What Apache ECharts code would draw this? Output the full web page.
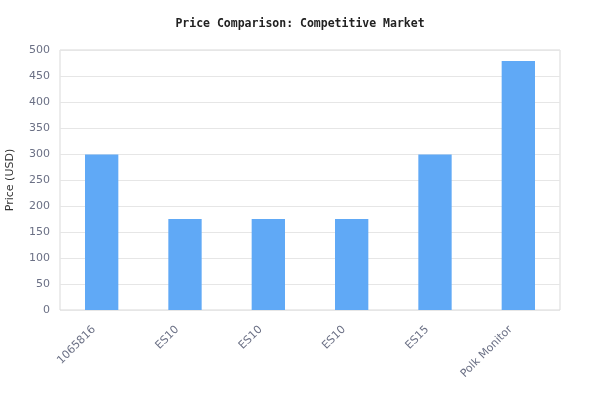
<!DOCTYPE html>
<html>
<head>
	<meta charset="utf-8">
	<title>Price Comparison</title>
	<script src="https://cdn.jsdelivr.net/npm/echarts@6/dist/echarts.min.js"></script>
	<style type="text/css">
		* {
			padding: 0;
			margin: 0;
		}
		#chart {
			width: 600px;
			height: 420px;
		}
	</style>
</head>
<body>
	<div id="chart"></div>
	<script type="text/javascript">
		var categories = ['1065816', 'ES10', 'ES10', 'ES10', 'ES15', 'Polk Monitor'];
		var prices = [299, 175, 175, 175, 299, 479];
		var yTicks = [0, 50, 100, 150, 200, 250, 300, 350, 400, 450, 500];

		var chart = echarts.init(document.getElementById('chart'));
		chart.setOption({
			animation: false,
			title: {
				text: 'Price Comparison: Competitive Market',
				left: 'center',
				top: 13,
				textStyle: {
					fontFamily: 'DejaVu Sans Mono',
					fontSize: 11.5,
					fontWeight: 'bold',
					color: '#222'
				}
			},
			grid: {
				left: 60,
				right: 40,
				top: 50,
				bottom: 110,
				outerBoundsMode: 'none',
				containLabel: false,
				show: true,
				borderColor: '#d9d9d9',
				borderWidth: 1
			},
			xAxis: {
				type: 'category',
				data: categories,
				axisLine: { show: false },
				axisTick: { show: false },
				axisLabel: {
					rotate: 45,
					interval: 0,
					color: '#6b7085',
					fontFamily: 'DejaVu Sans',
					fontSize: 11,
					margin: 10,
					padding: [0, 11, 0, 0]
				}
			},
			yAxis: {
				type: 'value',
				min: yTicks[0],
				max: yTicks[yTicks.length - 1],
				interval: 50,
				name: 'Price (USD)',
				nameLocation: 'middle',
				nameGap: 44,
				nameTextStyle: {
					color: '#333',
					fontFamily: 'DejaVu Sans',
					fontSize: 11
				},
				axisLine: { show: false },
				axisTick: { show: false },
				axisLabel: {
					color: '#6b7085',
					fontFamily: 'DejaVu Sans',
					fontSize: 11,
					margin: 10
				},
				splitLine: { lineStyle: { color: '#e6e6e6' } }
			},
			series: [{
				type: 'bar',
				data: prices,
				barWidth: '40%',
				itemStyle: { color: '#60a9f6' }
			}]
		});
	</script>
</body>
</html>
